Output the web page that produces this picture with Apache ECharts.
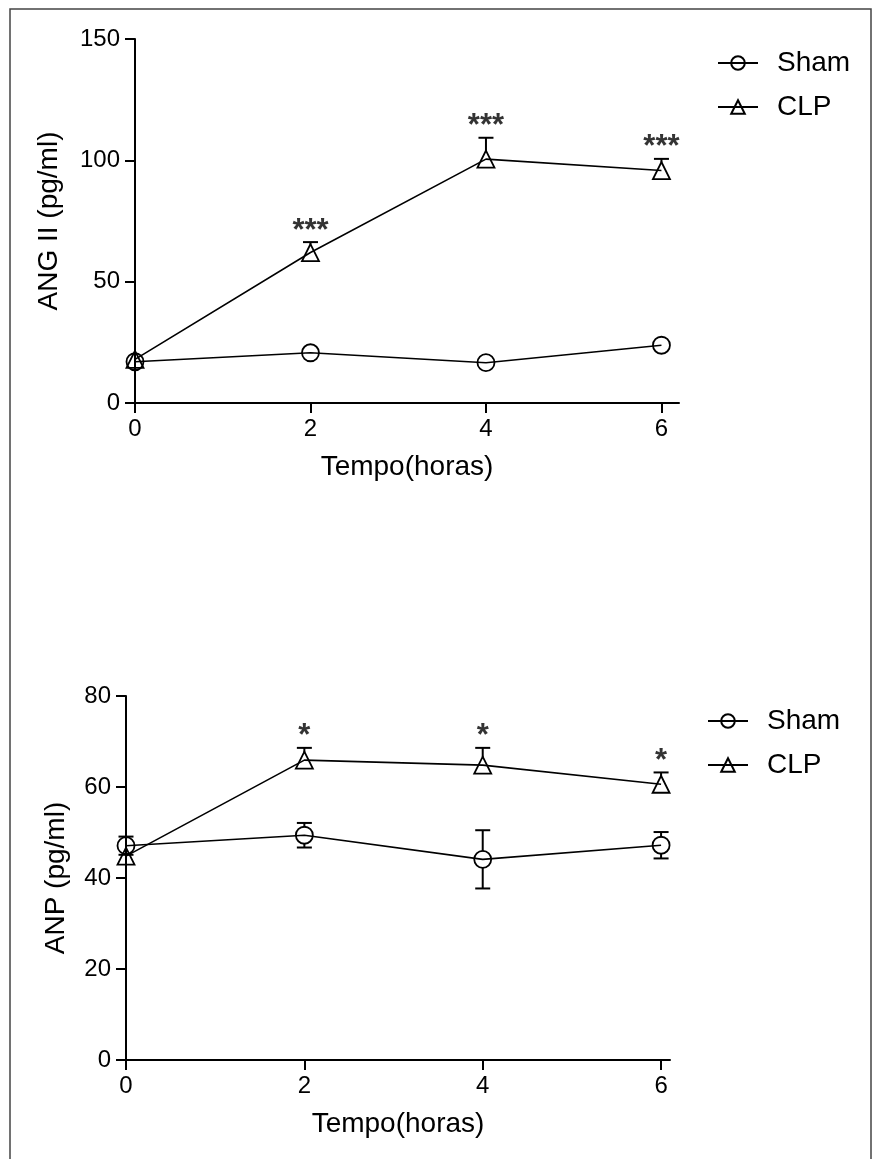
<!DOCTYPE html>
<html>
<head>
  <meta charset="utf-8">
  <title>ANG II / ANP</title>
  <script src="https://cdn.jsdelivr.net/npm/echarts@6/dist/echarts.min.js"></script>
  <style>
    html, body { margin: 0; padding: 0; background: #fff; }
    #main { width: 872px; height: 1159px; }
  </style>
</head>
<body>
  <div id="main"></div>
  <script type="text/javascript">
    // dados (media e EPM)
    var hours = [0, 2, 4, 6];
    var xTicks = [0, 2, 4, 6];

    var angSham = [17.0, 20.7, 16.6, 23.8];
    var angShamSem = [1.2, 1.5, 1.2, 1.8];
    var angClp = [18.0, 62.0, 100.5, 95.8];
    var angClpSem = [1.5, 4.3, 8.8, 4.8];
    var angStars = ['', '***', '***', '***'];

    var anpSham = [47.1, 49.4, 44.1, 47.2];
    var anpShamSem = [2.0, 2.7, 6.4, 2.9];
    var anpClp = [44.8, 65.9, 64.8, 60.6];
    var anpClpSem = [1.0, 2.7, 3.8, 2.6];
    var anpStars = ['', '*', '*', '*'];

    var FONT = 'Liberation Sans, Arial, sans-serif';
    var chart = echarts.init(document.getElementById('main'));

    function pairs(xs, ys) {
      return xs.map(function (x, i) { return [x, ys[i]]; });
    }
    // [x, media, epm, ambos(1) / so acima(0)]
    function errData(xs, ys, sem, both) {
      return xs.map(function (x, i) { return [x, ys[i], sem[i], both]; });
    }
    function starData(xs, ys, sem, stars) {
      var out = [];
      xs.forEach(function (x, i) {
        if (stars[i]) out.push({ value: [x, ys[i] + sem[i]], txt: stars[i] });
      });
      return out;
    }

    var R = 8, CAP = 7.5;
    function renderErr(params, api) {
      var x = api.value(0), m = api.value(1), s = api.value(2), both = api.value(3);
      var c = api.coord([x, m]);
      var hi = api.coord([x, m + s]);
      var lo = api.coord([x, m - s]);
      var st = { stroke: '#000', lineWidth: 2 };
      var kids = [];
      if (c[1] - hi[1] > R) {
        kids.push({ type: 'line', shape: { x1: c[0], y1: c[1] - R, x2: c[0], y2: hi[1] }, style: st });
        kids.push({ type: 'line', shape: { x1: c[0] - CAP, y1: hi[1], x2: c[0] + CAP, y2: hi[1] }, style: st });
      }
      if (both && lo[1] - c[1] > R) {
        kids.push({ type: 'line', shape: { x1: c[0], y1: c[1] + R, x2: c[0], y2: lo[1] }, style: st });
        kids.push({ type: 'line', shape: { x1: c[0] - CAP, y1: lo[1], x2: c[0] + CAP, y2: lo[1] }, style: st });
      }
      return { type: 'group', children: kids };
    }

    function lineSeries(name, idx, xs, ys, sym) {
      return {
        name: name, type: 'line', xAxisIndex: idx, yAxisIndex: idx,
        data: pairs(xs, ys),
        symbol: sym, symbolSize: 17,
        lineStyle: { color: '#000', width: 1.6 },
        itemStyle: { color: 'rgba(0,0,0,0)', borderColor: '#000', borderWidth: 1.8 },
        emphasis: { disabled: true },
        z: 3
      };
    }
    function errSeries(idx, xs, ys, sem, both) {
      return {
        type: 'custom', xAxisIndex: idx, yAxisIndex: idx,
        data: errData(xs, ys, sem, both),
        renderItem: renderErr, z: 2, silent: true
      };
    }
    function starSeries(idx, xs, ys, sem, stars) {
      return {
        type: 'scatter', xAxisIndex: idx, yAxisIndex: idx,
        data: starData(xs, ys, sem, stars),
        symbolSize: 1, itemStyle: { color: 'rgba(0,0,0,0)' },
        label: {
          show: true, position: 'top', distance: -5,
          formatter: function (p) { return p.data.txt; },
          fontSize: 31, fontWeight: 'bold', color: '#000', fontFamily: FONT
        },
        silent: true
      };
    }

    function xAx(idx, max) {
      return {
        type: 'value', gridIndex: idx, min: 0, max: max,
        name: 'Tempo(horas)', nameLocation: 'middle', nameGap: 50,
        nameTextStyle: { fontSize: 28, color: '#000', fontFamily: FONT },
        axisLine: { lineStyle: { color: '#000', width: 2 } },
        axisTick: { customValues: xTicks, length: 10, lineStyle: { color: '#000', width: 2 } },
        axisLabel: { customValues: xTicks, fontSize: 24, color: '#000', fontFamily: FONT, margin: 14 },
        splitLine: { show: false }
      };
    }
    function yAx(idx, max, step, name, gap) {
      return {
        type: 'value', gridIndex: idx, min: 0, max: max, interval: step,
        name: name, nameLocation: 'middle', nameGap: gap,
        nameTextStyle: { fontSize: 28, color: '#000', fontFamily: FONT },
        axisLine: { show: true, lineStyle: { color: '#000', width: 2 } },
        axisTick: { show: true, length: 10, lineStyle: { color: '#000', width: 2 } },
        axisLabel: { fontSize: 24, color: '#000', fontFamily: FONT, margin: 15 },
        splitLine: { show: false }
      };
    }
    function legendAt(top, left) {
      return {
        orient: 'vertical', left: left, top: top, padding: 0,
        data: ['Sham', 'CLP'],
        itemWidth: 40, itemHeight: 17, itemGap: 16,
        selectedMode: false,
        textStyle: { fontSize: 28, color: '#000', fontFamily: FONT, padding: [0, 0, 0, 14] }
      };
    }

    var option = {
      animation: false,
      backgroundColor: '#fff',
      graphic: [{
        type: 'rect', silent: true,
        shape: { x: 10, y: 9, width: 861, height: 1160 },
        style: { fill: 'none', stroke: '#444', lineWidth: 1.5 }
      }],
      legend: [legendAt(49, 717), legendAt(707, 707)],
      grid: [
        { left: 135, top: 39, width: 544, height: 364 },
        { left: 126, top: 696, width: 544, height: 364 }
      ],
      xAxis: [xAx(0, 6.2), xAx(1, 6.1)],
      yAxis: [
        yAx(0, 150, 50, 'ANG II (pg/ml)', 72),
        yAx(1, 80, 20, 'ANP (pg/ml)', 56)
      ],
      series: [
        lineSeries('Sham', 0, hours, angSham, 'circle'),
        lineSeries('CLP', 0, hours, angClp, 'triangle'),
        errSeries(0, hours, angSham, angShamSem, 1),
        errSeries(0, hours, angClp, angClpSem, 0),
        starSeries(0, hours, angClp, angClpSem, angStars),

        lineSeries('Sham', 1, hours, anpSham, 'circle'),
        lineSeries('CLP', 1, hours, anpClp, 'triangle'),
        errSeries(1, hours, anpSham, anpShamSem, 1),
        errSeries(1, hours, anpClp, anpClpSem, 0),
        starSeries(1, hours, anpClp, anpClpSem, anpStars)
      ]
    };
    chart.setOption(option);
  </script>
</body>
</html>
